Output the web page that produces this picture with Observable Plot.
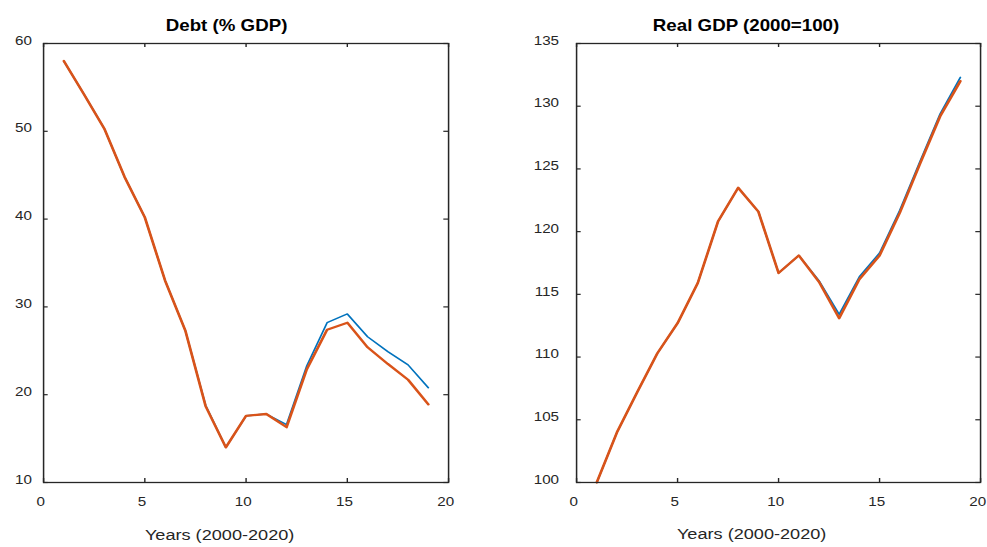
<!DOCTYPE html>
<html>
<head>
<meta charset="utf-8">
<script src="https://cdn.jsdelivr.net/npm/d3@7"></script>
<script src="https://cdn.jsdelivr.net/npm/@observablehq/plot@0.6"></script>
<style>
html, body { margin: 0; padding: 0; background: #fff; overflow: hidden; }
#fig { position: absolute; left: 0; top: 0; width: 843.6px; height: 547px; transform: scaleX(1.17); transform-origin: 0 0; }
#fig svg { position: absolute; top: 0; }
</style>
</head>
<body>
<div id="fig"></div>
<script>
// ---- data ----
const years = [1, 2, 3, 4, 5, 6, 7, 8, 9, 10, 11, 12, 13, 14, 15, 16, 17, 18, 19];
const debtBlue   = [58.0, 54.2, 50.3, 44.8, 40.2, 33.0, 27.3, 18.8, 14.0, 17.6, 17.8, 16.6, 23.3, 28.2, 29.2, 26.6, 24.9, 23.4, 20.8];
const debtOrange = [58.0, 54.2, 50.3, 44.8, 40.2, 33.0, 27.3, 18.7, 14.0, 17.6, 17.8, 16.3, 22.9, 27.4, 28.2, 25.4, 23.5, 21.7, 18.9];
const gdpBlue    = [100.0, 104.0, 107.2, 110.3, 112.7, 115.9, 120.8, 123.5, 121.6, 116.7, 118.1, 116.1, 113.4, 116.4, 118.3, 121.7, 125.6, 129.4, 132.3];
const gdpOrange  = [100.0, 104.0, 107.2, 110.3, 112.7, 115.9, 120.8, 123.5, 121.6, 116.7, 118.1, 116.0, 113.1, 116.2, 118.1, 121.5, 125.4, 129.2, 132.0];
const xTicks = [0, 5, 10, 15, 20];
const debtTicks = [10, 20, 30, 40, 50, 60];
const gdpTicks = [100, 105, 110, 115, 120, 125, 130, 135];
const titles = ["Debt (% GDP)", "Real GDP (2000=100)"];
const xLabel = "Years (2000-2020)";

const BLUE = "#0072BD", ORANGE = "#D95319", AX = "#262626";
const H = 547, MT = 43, MB = 65, PH = H - MT - MB;

function rows(vals) { return years.map((y, i) => ({year: y, value: vals[i]})); }

function panel({left, width, marginLeft, marginRight, blue, orange, yDomain, yTicks, title, titleDx, labelDx, tickPadding}) {
  const PW = width - marginLeft - marginRight;
  const svg = Plot.plot({
    width, height: H,
    marginLeft, marginRight, marginTop: MT, marginBottom: MB,
    style: {fontFamily: "'Liberation Sans', Arial, sans-serif", fontSize: "13px", color: AX, background: "transparent", overflow: "visible"},
    x: {domain: [0, 20]},
    y: {domain: yDomain},
    marks: [
      Plot.line(rows(blue), {x: "year", y: "value", stroke: BLUE, strokeWidth: 1.5}),
      Plot.line(rows(orange), {x: "year", y: "value", stroke: ORANGE, strokeWidth: 2.3}),
      Plot.axisX({ticks: xTicks, anchor: "bottom", tickSize: 0, tickPadding: 14, dx: -2.4, label: null, fontSize: 13, fill: AX}),
      Plot.axisY({ticks: yTicks, anchor: "left", tickSize: 0, tickPadding, dy: -3, label: null, fontSize: 13, fill: AX}),
      Plot.tickY(yTicks, {y: d => d, stroke: AX, strokeWidth: 1.2, insetRight: PW - 4}),
      Plot.tickY(yTicks, {y: d => d, stroke: AX, strokeWidth: 1.2, insetLeft: PW - 4}),
      Plot.tickX(xTicks, {x: d => d, stroke: AX, strokeWidth: 1.2, insetTop: PH - 4}),
      Plot.tickX(xTicks, {x: d => d, stroke: AX, strokeWidth: 1.2, insetBottom: PH - 4}),
      Plot.frame({stroke: AX, strokeWidth: 1.3}),
      Plot.text([title], {text: d => d, frameAnchor: "top", dy: -24, dx: titleDx, fontWeight: "bold", fontSize: 16, fill: "#000"}),
      Plot.text([xLabel], {text: d => d, frameAnchor: "bottom", dy: 57, dx: labelDx, fontSize: 15.5, fill: AX})
    ]
  });
  svg.style.left = left + "px";
  document.getElementById("fig").appendChild(svg);
}

panel({left: 0, width: 420, marginLeft: 36.75, marginRight: 37.1,
  blue: debtBlue, orange: debtOrange, yDomain: [10, 60], yTicks: debtTicks,
  title: titles[0], titleDx: -16.7, labelDx: -22.6, tickPadding: 10});
panel({left: 420, width: 423.6, marginLeft: 72.3, marginRight: 6,
  blue: gdpBlue, orange: gdpOrange, yDomain: [100, 135], yTicks: gdpTicks,
  title: titles[1], titleDx: -27.8, labelDx: -23, tickPadding: 15});
</script>
</body>
</html>
